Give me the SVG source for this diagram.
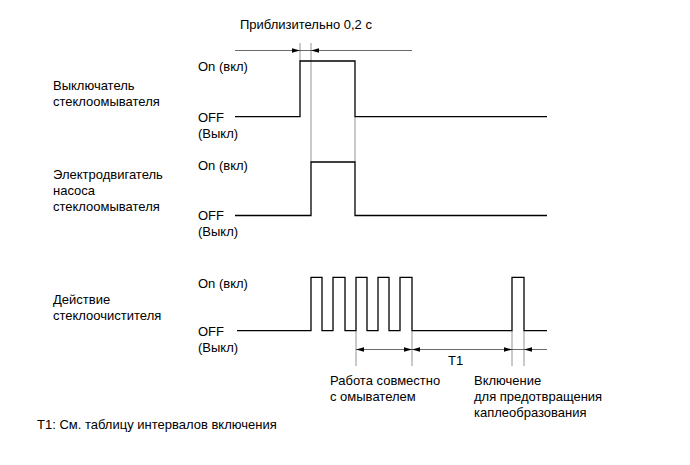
<svg xmlns="http://www.w3.org/2000/svg" width="690" height="465" viewBox="0 0 690 465">
<style>
text{font-family:"Liberation Sans",Arial,sans-serif;font-size:13px;fill:#000}
.sig{fill:none;stroke:#000;stroke-width:1.3}
.ext{fill:none;stroke:#888;stroke-width:0.9}
.dim{fill:none;stroke:#444;stroke-width:0.8}
.ah{fill:#000}
</style>
<rect width="690" height="465" fill="#fff"/>
<g id="title"><text x="240" y="28.5">Приблизительно 0,2 с</text></g>
<g id="switch">
<text x="53" y="89.5">Выключатель</text>
<text x="53" y="105.5">стеклоомывателя</text>
<text x="198" y="71">On (вкл)</text>
<text x="198" y="121.5">OFF</text>
<text x="198" y="137.5">(Выкл)</text>
</g>
<g id="pump">
<text x="53" y="178.5">Электродвигатель</text>
<text x="53" y="194.5">насоса</text>
<text x="53" y="210.5">стеклоомывателя</text>
<text x="198" y="169.5">On (вкл)</text>
<text x="198" y="219.5">OFF</text>
<text x="198" y="235.5">(Выкл)</text>
</g>
<g id="wiper">
<text x="53" y="303.5">Действие</text>
<text x="53" y="319.5">стеклоочистителя</text>
<text x="198" y="287.5">On (вкл)</text>
<text x="198" y="335.5">OFF</text>
<text x="198" y="351.5">(Выкл)</text>
</g>
<g id="notes">
<text x="448" y="365">T1</text>
<text x="330" y="384.5">Работа совместно</text>
<text x="330" y="400.5">с омывателем</text>
<text x="474" y="384.5">Включение</text>
<text x="474" y="400.5">для предотвращения</text>
<text x="474" y="416.5">каплеобразования</text>
<text x="37" y="428.5">T1: См. таблицу интервалов включения</text>
</g>
<g id="connectors">
<path class="ext" d="M300 43V61M311 43V162M355 117V162M356 331V366M412 331V366M512 331V366M524 331V366"/>
<path class="dim" d="M235 50.5H412M356 349.5H547"/>
<path class="sig" d="M235 116.7H300V61H355V116.7H547"/>
<path class="sig" d="M235 215.5H311V162H355V215.5H547"/>
<path class="sig" d="M237 330.7H311V277.3H322V330.7H333V277.3H345V330.7H356V277.3H367V330.7H378V277.3H389V330.7H400V277.3H412V330.7H512V277.3H524V330.7H547"/>
<path class="ah" d="M300 50.5l-8 -2.3v4.6zM311 50.5l8 -2.3v4.6zM356 349.5l8 -2.3v4.6zM412 349.5l-8 -2.3v4.6zM412 349.5l8 -2.3v4.6zM512 349.5l-8 -2.3v4.6zM524 349.5l8 -2.3v4.6z"/>
</g>
</svg>
